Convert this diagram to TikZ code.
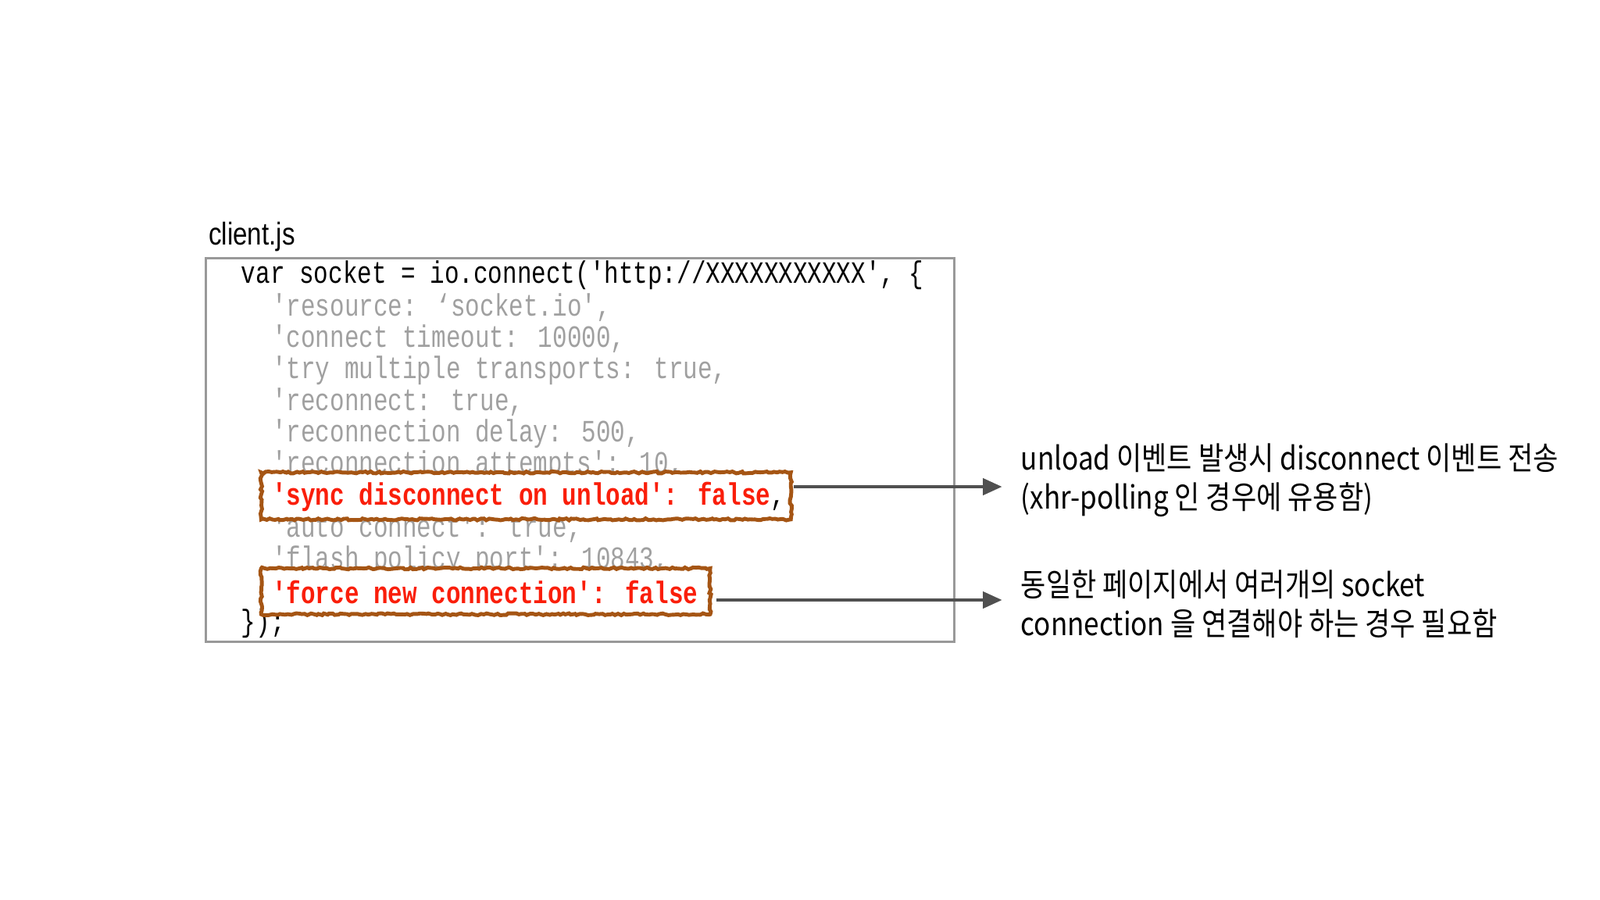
\documentclass[tikz,border=0pt]{standalone}
\usepackage{fontspec}
\usetikzlibrary{decorations.pathmorphing,arrows.meta}
\newfontfamily\codefont[FakeStretch=0.78]{Liberation Mono}
\newfontfamily\kr[FakeStretch=0.86]{Noto Sans CJK KR}
\newfontfamily\lsans[FakeStretch=0.82]{Liberation Sans}
\definecolor{codegray}{RGB}{160,160,160}
\definecolor{hot}{RGB}{250,30,10}
\definecolor{rough}{RGB}{165,85,20}
\definecolor{arr}{RGB}{80,80,80}
\begin{document}
\begin{tikzpicture}[x=0.01306cm,y=-0.01306cm,
  code/.style={anchor=west,inner sep=0pt,font=\codefont\fontsize{11.3}{13}\selectfont},
  dim/.style={code,text=codegray},
  hl/.style={code,text=hot,font=\codefont\bfseries\fontsize{11.3}{13}\selectfont},
  roughbox/.style={draw=rough,line width=1.4pt,decorate,decoration={random steps,segment length=1pt,amplitude=0.35pt}},
  note/.style={anchor=west,align=left,inner sep=0pt,font=\kr\fontsize{11.6}{14.2}\selectfont},
  conn/.style={draw=arr,line width=1.2pt,-{Triangle[length=7pt,width=6pt]}}]
\useasboundingbox (0,0) rectangle (1568,882);
\node[anchor=west,inner sep=0pt,font=\lsans\fontsize{11.5}{13}\selectfont] (title) at (204,232) {client.js};
\draw[draw=gray!80,line width=0.9pt] (202,253) rectangle (935,629);
\node[code] (l0) at (236,270) {var socket = io.connect('http://XXXXXXXXXXX', \{};
\node[dim] (l1) at (266,301) {'resource: ‘socket.io',};
\node[dim] (l2) at (266,332) {'connect timeout: 10000,};
\node[dim] (l3) at (266,363) {'try multiple transports: true,};
\node[dim] (l4) at (266,394) {'reconnect: true,};
\node[dim] (l5) at (266,425) {'reconnection delay: 500,};
\node[dim] (l6) at (266,456) {'reconnection attempts': 10,};
\node[dim] (l8) at (266,518) {'auto connect': true,};
\node[dim] (l9) at (266,549) {'flash policy port': 10843,};
\node[code] (l11) at (236,611) {\});};
\fill[white] (256,463) rectangle (775,509);
\fill[white] (256,557) rectangle (696,602);
\node[hl] (l7) at (266,487) {'sync disconnect on unload': false{\mdseries\color{black},}};
\node[hl] (l10) at (266,580) {'force new connection': false};
\draw[roughbox] (256,463) rectangle (775,509);
\draw[roughbox] (256,557) rectangle (696,602);
\coordinate (b1) at (778,477);
\coordinate (b2) at (702,588);
\node[note] (n1) at (1000,471) {unload 이벤트 발생시 disconnect 이벤트 전송\\(xhr-polling 인 경우에 유용함)};
\node[note] (n2) at (1000,592) {동일한 페이지에서 여러개의 socket\\connection 을 연결해야 하는 경우 필요함};
\coordinate (e1) at (982,477);
\coordinate (e2) at (982,588);
\draw[conn] (b1) -- (e1);
\draw[conn] (b2) -- (e2);
\end{tikzpicture}
\end{document}
